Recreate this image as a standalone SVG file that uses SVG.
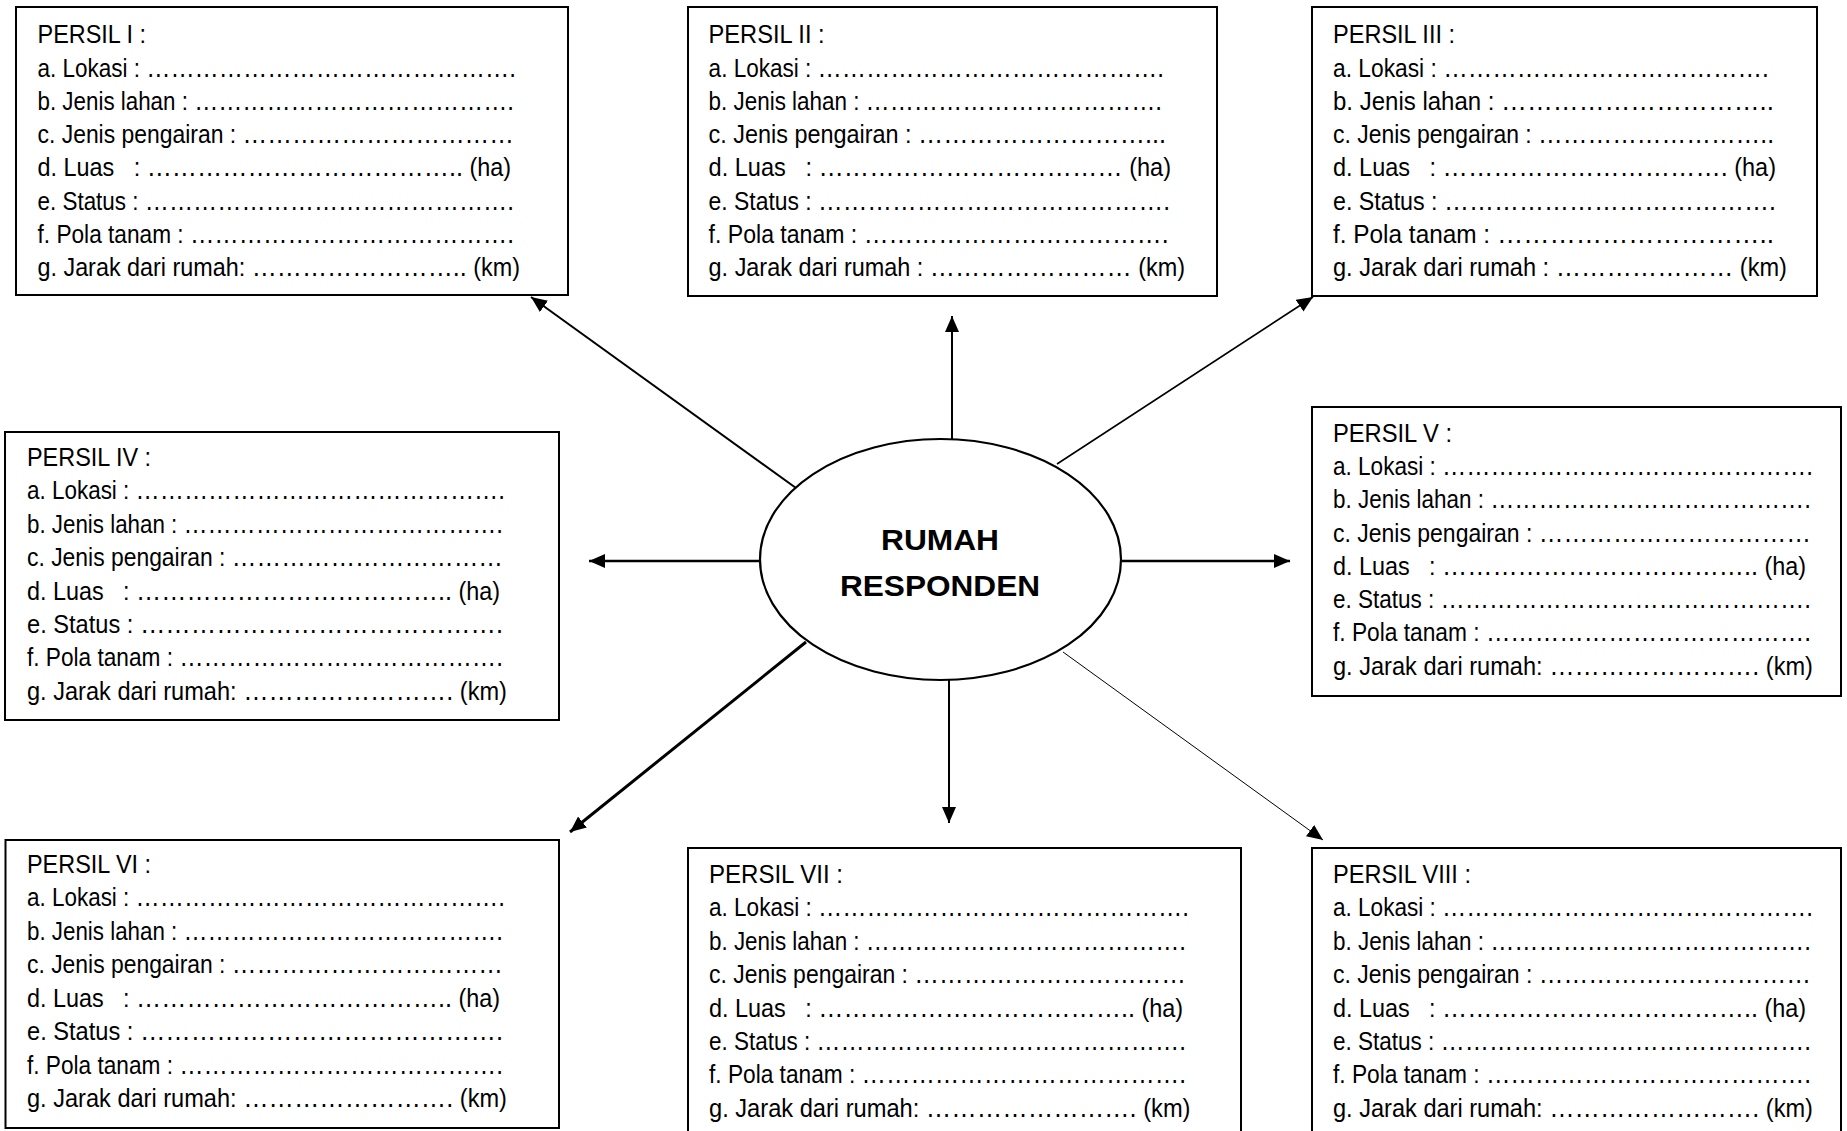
<svg xmlns="http://www.w3.org/2000/svg" width="1847" height="1131" viewBox="0 0 1847 1131">
<style>
.box{fill:#fff;stroke:#000;stroke-width:2}
.t{font-family:"Liberation Sans",Arial,sans-serif;font-size:26px;fill:#000;white-space:pre}
.d{font-size:28px}
.ttl{font-family:"Liberation Sans",Arial,sans-serif;font-weight:bold;font-size:30px;fill:#000;text-anchor:middle}
.c{fill:none;stroke:#000;marker-end:url(#ah)}
</style>
<defs>
<marker id="ah" viewBox="0 0 16 14" refX="16" refY="7" markerWidth="16" markerHeight="14" markerUnits="userSpaceOnUse" orient="auto"><path d="M0,0 L16,7 L0,14 z" fill="#000"/></marker>
</defs>
<rect width="1847" height="1131" fill="#fff"/>

<g id="persil-1">
<rect class="box" x="16" y="7" width="552" height="288"/>
<g transform="translate(37.5,43.3) scale(0.9,1)">
<text class="t" y="0" textLength="120.6" lengthAdjust="spacingAndGlyphs">PERSIL I :</text>
<text class="t" y="33.3" textLength="531.7" lengthAdjust="spacingAndGlyphs">a. Lokasi : <tspan class="d">……………………………………….</tspan></text>
<text class="t" y="66.6" textLength="529.4" lengthAdjust="spacingAndGlyphs">b. Jenis lahan : <tspan class="d">………………………………….</tspan></text>
<text class="t" y="99.9" textLength="529.4" lengthAdjust="spacingAndGlyphs">c. Jenis pengairan : <tspan class="d">……………………………</tspan></text>
<text class="t" y="133.2" textLength="526.1" lengthAdjust="spacingAndGlyphs">d. Luas   : <tspan class="d">&#8230;&#8230;&#8230;&#8230;&#8230;&#8230;&#8230;&#8230;&#8230;&#8230;&#8230;&#8230;..</tspan> (ha)</text>
<text class="t" y="166.5" textLength="529.4" lengthAdjust="spacingAndGlyphs">e. Status : <tspan class="d">……………………………………….</tspan></text>
<text class="t" y="199.8" textLength="529.4" lengthAdjust="spacingAndGlyphs">f. Pola tanam : <tspan class="d">………………………………….</tspan></text>
<text class="t" y="233.1" textLength="536.1" lengthAdjust="spacingAndGlyphs">g. Jarak dari rumah: <tspan class="d">&#8230;&#8230;&#8230;&#8230;&#8230;&#8230;&#8230;&#8230;..</tspan> (km)</text>
</g>
</g>

<g id="persil-2">
<rect class="box" x="688" y="7" width="529" height="289"/>
<g transform="translate(708.6,43.3) scale(0.9,1)">
<text class="t" y="0" textLength="128.9" lengthAdjust="spacingAndGlyphs">PERSIL II :</text>
<text class="t" y="33.3" textLength="506" lengthAdjust="spacingAndGlyphs">a. Lokasi : <tspan class="d">…………………………………….</tspan></text>
<text class="t" y="66.6" textLength="503.8" lengthAdjust="spacingAndGlyphs">b. Jenis lahan : <tspan class="d">……………………………….</tspan></text>
<text class="t" y="99.9" textLength="508.2" lengthAdjust="spacingAndGlyphs">c. Jenis pengairan : <tspan class="d">………………………...</tspan></text>
<text class="t" y="133.2" textLength="513.8" lengthAdjust="spacingAndGlyphs">d. Luas   : <tspan class="d">&#8230;&#8230;&#8230;&#8230;&#8230;&#8230;&#8230;&#8230;&#8230;&#8230;&#8230;&#8230;</tspan> (ha)</text>
<text class="t" y="166.5" textLength="512.7" lengthAdjust="spacingAndGlyphs">e. Status : <tspan class="d">…………………………………….</tspan></text>
<text class="t" y="199.8" textLength="511.1" lengthAdjust="spacingAndGlyphs">f. Pola tanam : <tspan class="d">……………………………….</tspan></text>
<text class="t" y="233.1" textLength="529.3" lengthAdjust="spacingAndGlyphs">g. Jarak dari rumah : <tspan class="d">&#8230;&#8230;&#8230;&#8230;&#8230;&#8230;&#8230;&#8230;</tspan> (km)</text>
</g>
</g>

<g id="persil-3">
<rect class="box" x="1312" y="7" width="505" height="289"/>
<g transform="translate(1333,43.3) scale(0.9,1)">
<text class="t" y="0" textLength="135.6" lengthAdjust="spacingAndGlyphs">PERSIL III :</text>
<text class="t" y="33.3" textLength="484.4" lengthAdjust="spacingAndGlyphs">a. Lokasi : <tspan class="d">………………………………….</tspan></text>
<text class="t" y="66.6" textLength="490" lengthAdjust="spacingAndGlyphs">b. Jenis lahan : <tspan class="d">…………………………..</tspan></text>
<text class="t" y="99.9" textLength="490" lengthAdjust="spacingAndGlyphs">c. Jenis pengairan : <tspan class="d">………………………..</tspan></text>
<text class="t" y="133.2" textLength="492.2" lengthAdjust="spacingAndGlyphs">d. Luas   : <tspan class="d">&#8230;&#8230;&#8230;&#8230;&#8230;&#8230;&#8230;&#8230;&#8230;&#8230;&#8230;.</tspan> (ha)</text>
<text class="t" y="166.5" textLength="492.2" lengthAdjust="spacingAndGlyphs">e. Status : <tspan class="d">………………………………….</tspan></text>
<text class="t" y="199.8" textLength="490" lengthAdjust="spacingAndGlyphs">f. Pola tanam : <tspan class="d">…………………………..</tspan></text>
<text class="t" y="233.1" textLength="504.4" lengthAdjust="spacingAndGlyphs">g. Jarak dari rumah : <tspan class="d">&#8230;&#8230;&#8230;&#8230;&#8230;&#8230;&#8230;</tspan> (km)</text>
</g>
</g>

<g id="persil-4">
<rect class="box" x="5" y="432" width="554" height="288"/>
<g transform="translate(27,466) scale(0.9,1)">
<text class="t" y="0" textLength="137.8" lengthAdjust="spacingAndGlyphs">PERSIL IV :</text>
<text class="t" y="33.4" textLength="531.1" lengthAdjust="spacingAndGlyphs">a. Lokasi : <tspan class="d">……………………………………….</tspan></text>
<text class="t" y="66.8" textLength="528.9" lengthAdjust="spacingAndGlyphs">b. Jenis lahan : <tspan class="d">………………………………….</tspan></text>
<text class="t" y="100.2" textLength="528.9" lengthAdjust="spacingAndGlyphs">c. Jenis pengairan : <tspan class="d">……………………………</tspan></text>
<text class="t" y="133.6" textLength="525.6" lengthAdjust="spacingAndGlyphs">d. Luas   : <tspan class="d">&#8230;&#8230;&#8230;&#8230;&#8230;&#8230;&#8230;&#8230;&#8230;&#8230;&#8230;&#8230;..</tspan> (ha)</text>
<text class="t" y="167" textLength="528.9" lengthAdjust="spacingAndGlyphs">e. Status : <tspan class="d">…………………………………….</tspan></text>
<text class="t" y="200.4" textLength="528.9" lengthAdjust="spacingAndGlyphs">f. Pola tanam : <tspan class="d">………………………………….</tspan></text>
<text class="t" y="233.8" textLength="533.3" lengthAdjust="spacingAndGlyphs">g. Jarak dari rumah: <tspan class="d">&#8230;&#8230;&#8230;&#8230;&#8230;&#8230;&#8230;&#8230;.</tspan> (km)</text>
</g>
</g>

<g id="persil-5">
<rect class="box" x="1312" y="407" width="529" height="289"/>
<g transform="translate(1333,441.7) scale(0.9,1)">
<text class="t" y="0" textLength="132.2" lengthAdjust="spacingAndGlyphs">PERSIL V :</text>
<text class="t" y="33.3" textLength="533.3" lengthAdjust="spacingAndGlyphs">a. Lokasi : <tspan class="d">……………………………………….</tspan></text>
<text class="t" y="66.6" textLength="531.1" lengthAdjust="spacingAndGlyphs">b. Jenis lahan : <tspan class="d">………………………………….</tspan></text>
<text class="t" y="99.9" textLength="531.1" lengthAdjust="spacingAndGlyphs">c. Jenis pengairan : <tspan class="d">……………………………</tspan></text>
<text class="t" y="133.2" textLength="525.6" lengthAdjust="spacingAndGlyphs">d. Luas   : <tspan class="d">&#8230;&#8230;&#8230;&#8230;&#8230;&#8230;&#8230;&#8230;&#8230;&#8230;&#8230;&#8230;..</tspan> (ha)</text>
<text class="t" y="166.5" textLength="531.1" lengthAdjust="spacingAndGlyphs">e. Status : <tspan class="d">……………………………………….</tspan></text>
<text class="t" y="199.8" textLength="531.1" lengthAdjust="spacingAndGlyphs">f. Pola tanam : <tspan class="d">………………………………….</tspan></text>
<text class="t" y="233.1" textLength="533.3" lengthAdjust="spacingAndGlyphs">g. Jarak dari rumah: <tspan class="d">&#8230;&#8230;&#8230;&#8230;&#8230;&#8230;&#8230;&#8230;.</tspan> (km)</text>
</g>
</g>

<g id="persil-6">
<rect class="box" x="5.5" y="840" width="553.5" height="288"/>
<g transform="translate(27,873) scale(0.9,1)">
<text class="t" y="0" textLength="137.8" lengthAdjust="spacingAndGlyphs">PERSIL VI :</text>
<text class="t" y="33.5" textLength="531.1" lengthAdjust="spacingAndGlyphs">a. Lokasi : <tspan class="d">……………………………………….</tspan></text>
<text class="t" y="67" textLength="528.9" lengthAdjust="spacingAndGlyphs">b. Jenis lahan : <tspan class="d">………………………………….</tspan></text>
<text class="t" y="100.5" textLength="528.9" lengthAdjust="spacingAndGlyphs">c. Jenis pengairan : <tspan class="d">……………………………</tspan></text>
<text class="t" y="134" textLength="525.6" lengthAdjust="spacingAndGlyphs">d. Luas   : <tspan class="d">&#8230;&#8230;&#8230;&#8230;&#8230;&#8230;&#8230;&#8230;&#8230;&#8230;&#8230;&#8230;..</tspan> (ha)</text>
<text class="t" y="167.5" textLength="528.9" lengthAdjust="spacingAndGlyphs">e. Status : <tspan class="d">…………………………………….</tspan></text>
<text class="t" y="201" textLength="528.9" lengthAdjust="spacingAndGlyphs">f. Pola tanam : <tspan class="d">………………………………….</tspan></text>
<text class="t" y="234.5" textLength="533.3" lengthAdjust="spacingAndGlyphs">g. Jarak dari rumah: <tspan class="d">&#8230;&#8230;&#8230;&#8230;&#8230;&#8230;&#8230;&#8230;.</tspan> (km)</text>
</g>
</g>

<g id="persil-7">
<rect class="box" x="688" y="848" width="553" height="300"/>
<g transform="translate(709,883) scale(0.9,1)">
<text class="t" y="0" textLength="148.9" lengthAdjust="spacingAndGlyphs">PERSIL VII :</text>
<text class="t" y="33.4" textLength="533.3" lengthAdjust="spacingAndGlyphs">a. Lokasi : <tspan class="d">……………………………………….</tspan></text>
<text class="t" y="66.8" textLength="530" lengthAdjust="spacingAndGlyphs">b. Jenis lahan : <tspan class="d">………………………………….</tspan></text>
<text class="t" y="100.2" textLength="530" lengthAdjust="spacingAndGlyphs">c. Jenis pengairan : <tspan class="d">……………………………</tspan></text>
<text class="t" y="133.6" textLength="526.7" lengthAdjust="spacingAndGlyphs">d. Luas   : <tspan class="d">&#8230;&#8230;&#8230;&#8230;&#8230;&#8230;&#8230;&#8230;&#8230;&#8230;&#8230;&#8230;..</tspan> (ha)</text>
<text class="t" y="167" textLength="530" lengthAdjust="spacingAndGlyphs">e. Status : <tspan class="d">……………………………………….</tspan></text>
<text class="t" y="200.4" textLength="530" lengthAdjust="spacingAndGlyphs">f. Pola tanam : <tspan class="d">………………………………….</tspan></text>
<text class="t" y="233.8" textLength="535" lengthAdjust="spacingAndGlyphs">g. Jarak dari rumah: <tspan class="d">&#8230;&#8230;&#8230;&#8230;&#8230;&#8230;&#8230;&#8230;.</tspan> (km)</text>
</g>
</g>

<g id="persil-8">
<rect class="box" x="1312" y="848" width="529" height="300"/>
<g transform="translate(1333,883) scale(0.9,1)">
<text class="t" y="0" textLength="153.3" lengthAdjust="spacingAndGlyphs">PERSIL VIII :</text>
<text class="t" y="33.4" textLength="533.3" lengthAdjust="spacingAndGlyphs">a. Lokasi : <tspan class="d">……………………………………….</tspan></text>
<text class="t" y="66.8" textLength="531.1" lengthAdjust="spacingAndGlyphs">b. Jenis lahan : <tspan class="d">………………………………….</tspan></text>
<text class="t" y="100.2" textLength="531.1" lengthAdjust="spacingAndGlyphs">c. Jenis pengairan : <tspan class="d">……………………………</tspan></text>
<text class="t" y="133.6" textLength="525.6" lengthAdjust="spacingAndGlyphs">d. Luas   : <tspan class="d">&#8230;&#8230;&#8230;&#8230;&#8230;&#8230;&#8230;&#8230;&#8230;&#8230;&#8230;&#8230;..</tspan> (ha)</text>
<text class="t" y="167" textLength="531.1" lengthAdjust="spacingAndGlyphs">e. Status : <tspan class="d">……………………………………….</tspan></text>
<text class="t" y="200.4" textLength="531.1" lengthAdjust="spacingAndGlyphs">f. Pola tanam : <tspan class="d">………………………………….</tspan></text>
<text class="t" y="233.8" textLength="533.3" lengthAdjust="spacingAndGlyphs">g. Jarak dari rumah: <tspan class="d">&#8230;&#8230;&#8230;&#8230;&#8230;&#8230;&#8230;&#8230;.</tspan> (km)</text>
</g>
</g>

<g id="center">
<ellipse cx="940.5" cy="559.5" rx="180.5" ry="120.5" fill="#fff" stroke="#000" stroke-width="2.2"/>
<text class="ttl" x="940" y="550" textLength="118" lengthAdjust="spacingAndGlyphs">RUMAH</text>
<text class="ttl" x="940" y="596" textLength="200" lengthAdjust="spacingAndGlyphs">RESPONDEN</text>
</g>

<g id="connectors">
<line class="c" x1="796" y1="488" x2="531" y2="297" stroke-width="2"/>
<line class="c" x1="952" y1="439" x2="952" y2="316" stroke-width="2"/>
<line class="c" x1="1057" y1="464" x2="1313" y2="297" stroke-width="1.6"/>
<line class="c" x1="759" y1="561" x2="589" y2="561" stroke-width="2.5"/>
<line class="c" x1="1122" y1="561" x2="1290" y2="561" stroke-width="2.5"/>
<line class="c" x1="806" y1="642" x2="570" y2="832" stroke-width="3"/>
<line class="c" x1="949" y1="680" x2="949" y2="823" stroke-width="2"/>
<line class="c" x1="1063" y1="652" x2="1323" y2="840" stroke="#cacaca" stroke-width="1"/>
</g>
</svg>
